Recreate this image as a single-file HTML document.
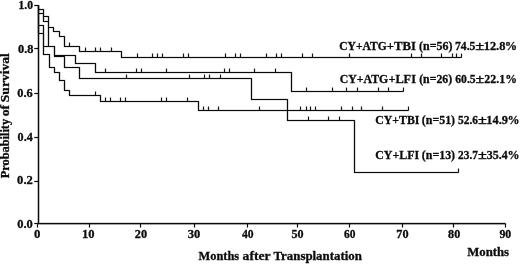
<!DOCTYPE html>
<html><head><meta charset="utf-8"><title>Probability of Survival</title>
<style>html,body{margin:0;padding:0;background:#fff}svg{display:block}</style></head>
<body>
<svg width="520" height="264" viewBox="0 0 520 264">
<rect width="520" height="264" fill="#fff"/>
<g fill="none" stroke="#000" stroke-linejoin="round" stroke-opacity="0.2">
<path d="M38.5,5.2 V223.5 H505.4" stroke-width="2.4"/>
<path d="M38.5,5.5 V9.5 H43.5 V16.5 H48.5 V27.5 H53.5 V31.5 H59.5 V36.5 H64.5 V46.5 H79.5 V51.5 H121.5 V57.5 H461.5 M38.5,5.5 V13.5 H43.5 V21.5 H48.5 V46.5 H54.5 V55.5 H75.5 V63.5 H95.5 V72.5 H291.5 V91.5 H403.5 M38.5,5.5 V25.5 H43.5 V54.5 H49.5 V67.5 H54.5 V72.5 H59.5 V80.5 H64.5 V90.5 H69.5 V95.5 H100.5 V101.5 H198.5 V110.5 H408.5 M38.5,5.5 V33.5 H43.5 V46.5 H54.5 V56.5 H64.5 V67.5 H79.5 V78.5 H251.5 V99.5 H287.5 V120.5 H354.5 V172.5 H458.5" stroke-width="2.2"/>
<path d="M69.5,46.5 v-3.9 M85.5,51.5 v-3.9 M95.5,51.5 v-3.9 M100.5,51.5 v-3.9 M111.5,51.5 v-3.9 M137.5,57.5 v-3.9 M152.5,57.5 v-3.9 M157.5,57.5 v-3.9 M162.5,57.5 v-3.9 M183.5,57.5 v-3.9 M188.5,57.5 v-3.9 M225.5,57.5 v-3.9 M235.5,57.5 v-3.9 M240.5,57.5 v-3.9 M266.5,57.5 v-3.9 M276.5,57.5 v-3.9 M281.5,57.5 v-3.9 M302.5,57.5 v-3.9 M312.5,57.5 v-3.9 M349.5,57.5 v-3.9 M411.5,57.5 v-3.9 M421.5,57.5 v-3.9 M441.5,57.5 v-3.9 M452.5,57.5 v-3.9 M456.5,57.5 v-3.9 M461.5,57.5 v-3.9 M105.5,72.5 v-3.9 M136.5,72.5 v-3.9 M141.5,72.5 v-3.9 M166.5,72.5 v-3.9 M224.5,72.5 v-3.9 M229.5,72.5 v-3.9 M254.5,72.5 v-3.9 M275.5,72.5 v-3.9 M306.5,91.5 v-3.9 M332.5,91.5 v-3.9 M346.5,91.5 v-3.9 M357.5,91.5 v-3.9 M378.5,91.5 v-3.9 M388.5,91.5 v-3.9 M403.5,91.5 v-3.9 M95.5,95.5 v-3.9 M105.5,101.5 v-3.9 M110.5,101.5 v-3.9 M120.5,101.5 v-3.9 M125.5,101.5 v-3.9 M161.5,101.5 v-3.9 M166.5,101.5 v-3.9 M187.5,101.5 v-3.9 M203.5,110.5 v-3.9 M208.5,110.5 v-3.9 M218.5,110.5 v-3.9 M259.5,110.5 v-3.9 M300.5,110.5 v-3.9 M306.5,110.5 v-3.9 M310.5,110.5 v-3.9 M315.5,110.5 v-3.9 M341.5,110.5 v-3.9 M352.5,110.5 v-3.9 M361.5,110.5 v-3.9 M382.5,110.5 v-3.9 M408.5,110.5 v-3.9 M126.5,78.5 v-3.9 M189.5,78.5 v-3.9 M204.5,78.5 v-3.9 M209.5,78.5 v-3.9 M220.5,78.5 v-3.9 M308.5,120.5 v-3.9 M328.5,120.5 v-3.9 M339.5,120.5 v-3.9 M458.5,172.5 v-3.9 M34.3,5.5 H38.5 M34.3,48.5 H38.5 M34.3,93.5 H38.5 M34.3,137.5 H38.5 M34.3,181.5 H38.5 M34.3,223.5 H38.5 M37.5,223.5 v4 M89.5,223.5 v4 M140.5,223.5 v4 M194.5,223.5 v4 M247.5,223.5 v4 M297.5,223.5 v4 M349.5,223.5 v4 M402.5,223.5 v4 M453.5,223.5 v4 M505.5,223.5 v4" stroke-width="1.9"/>
</g>
<g fill="none" stroke="#0a0a0a" stroke-linejoin="round">
<path d="M38.5,5.2 V223.5 H505.4" stroke-width="1.25"/>
<path d="M34.3,5.5 H38.5 M34.3,48.5 H38.5 M34.3,93.5 H38.5 M34.3,137.5 H38.5 M34.3,181.5 H38.5 M34.3,223.5 H38.5 M37.5,223.5 v4 M89.5,223.5 v4 M140.5,223.5 v4 M194.5,223.5 v4 M247.5,223.5 v4 M297.5,223.5 v4 M349.5,223.5 v4 M402.5,223.5 v4 M453.5,223.5 v4 M505.5,223.5 v4" stroke-width="1"/>
<path d="M38.5,5.5 V9.5 H43.5 V16.5 H48.5 V27.5 H53.5 V31.5 H59.5 V36.5 H64.5 V46.5 H79.5 V51.5 H121.5 V57.5 H461.5" stroke-width="1.05"/>
<path d="M69.5,46.5 v-3.9 M85.5,51.5 v-3.9 M95.5,51.5 v-3.9 M100.5,51.5 v-3.9 M111.5,51.5 v-3.9 M137.5,57.5 v-3.9 M152.5,57.5 v-3.9 M157.5,57.5 v-3.9 M162.5,57.5 v-3.9 M183.5,57.5 v-3.9 M188.5,57.5 v-3.9 M225.5,57.5 v-3.9 M235.5,57.5 v-3.9 M240.5,57.5 v-3.9 M266.5,57.5 v-3.9 M276.5,57.5 v-3.9 M281.5,57.5 v-3.9 M302.5,57.5 v-3.9 M312.5,57.5 v-3.9 M349.5,57.5 v-3.9 M411.5,57.5 v-3.9 M421.5,57.5 v-3.9 M441.5,57.5 v-3.9 M452.5,57.5 v-3.9 M456.5,57.5 v-3.9 M461.5,57.5 v-3.9" stroke-width="0.95"/>
<path d="M38.5,5.5 V13.5 H43.5 V21.5 H48.5 V46.5 H54.5 V55.5 H75.5 V63.5 H95.5 V72.5 H291.5 V91.5 H403.5" stroke-width="1.05"/>
<path d="M105.5,72.5 v-3.9 M136.5,72.5 v-3.9 M141.5,72.5 v-3.9 M166.5,72.5 v-3.9 M224.5,72.5 v-3.9 M229.5,72.5 v-3.9 M254.5,72.5 v-3.9 M275.5,72.5 v-3.9 M306.5,91.5 v-3.9 M332.5,91.5 v-3.9 M346.5,91.5 v-3.9 M357.5,91.5 v-3.9 M378.5,91.5 v-3.9 M388.5,91.5 v-3.9 M403.5,91.5 v-3.9" stroke-width="0.95"/>
<path d="M38.5,5.5 V25.5 H43.5 V54.5 H49.5 V67.5 H54.5 V72.5 H59.5 V80.5 H64.5 V90.5 H69.5 V95.5 H100.5 V101.5 H198.5 V110.5 H408.5" stroke-width="1.05"/>
<path d="M95.5,95.5 v-3.9 M105.5,101.5 v-3.9 M110.5,101.5 v-3.9 M120.5,101.5 v-3.9 M125.5,101.5 v-3.9 M161.5,101.5 v-3.9 M166.5,101.5 v-3.9 M187.5,101.5 v-3.9 M203.5,110.5 v-3.9 M208.5,110.5 v-3.9 M218.5,110.5 v-3.9 M259.5,110.5 v-3.9 M300.5,110.5 v-3.9 M306.5,110.5 v-3.9 M310.5,110.5 v-3.9 M315.5,110.5 v-3.9 M341.5,110.5 v-3.9 M352.5,110.5 v-3.9 M361.5,110.5 v-3.9 M382.5,110.5 v-3.9 M408.5,110.5 v-3.9" stroke-width="0.95"/>
<path d="M38.5,5.5 V33.5 H43.5 V46.5 H54.5 V56.5 H64.5 V67.5 H79.5 V78.5 H251.5 V99.5 H287.5 V120.5 H354.5 V172.5 H458.5" stroke-width="1.05"/>
<path d="M126.5,78.5 v-3.9 M189.5,78.5 v-3.9 M204.5,78.5 v-3.9 M209.5,78.5 v-3.9 M220.5,78.5 v-3.9 M308.5,120.5 v-3.9 M328.5,120.5 v-3.9 M339.5,120.5 v-3.9 M458.5,172.5 v-3.9" stroke-width="0.95"/>
</g>
<g font-family="'Liberation Serif', 'Times New Roman', serif" font-weight="bold" fill="#0c0c0c" stroke="#0c0c0c" stroke-width="0.3">
<text y="50.2" font-size="12.3"><tspan x="339.22" textLength="47.49" lengthAdjust="spacingAndGlyphs">CY+ATG</tspan><tspan x="386.86" textLength="29.15" lengthAdjust="spacingAndGlyphs">+TBI</tspan> <tspan x="419.12" textLength="33.28" lengthAdjust="spacingAndGlyphs">(n=56)</tspan> <tspan x="455.00" textLength="20.47" lengthAdjust="spacingAndGlyphs">74.5</tspan><tspan x="475.34" textLength="8.99" lengthAdjust="spacingAndGlyphs">±</tspan><tspan x="483.71" textLength="21.66" lengthAdjust="spacingAndGlyphs">12.8</tspan><tspan x="504.77" textLength="12.35" lengthAdjust="spacingAndGlyphs">%</tspan></text>
<text y="83.4" font-size="12.3"><tspan x="339.81" textLength="48.51" lengthAdjust="spacingAndGlyphs">CY+ATG</tspan><tspan x="388.38" textLength="27.57" lengthAdjust="spacingAndGlyphs">+LFI</tspan> <tspan x="419.13" textLength="33.07" lengthAdjust="spacingAndGlyphs">(n=26)</tspan> <tspan x="455.25" textLength="20.42" lengthAdjust="spacingAndGlyphs">60.5</tspan><tspan x="475.57" textLength="8.64" lengthAdjust="spacingAndGlyphs">±</tspan><tspan x="484.32" textLength="20.87" lengthAdjust="spacingAndGlyphs">22.1</tspan><tspan x="505.13" textLength="11.73" lengthAdjust="spacingAndGlyphs">%</tspan></text>
<text y="124.2" font-size="12.3"><tspan x="375.21" textLength="44.23" lengthAdjust="spacingAndGlyphs">CY+TBI</tspan> <tspan x="421.82" textLength="33.28" lengthAdjust="spacingAndGlyphs">(n=51)</tspan> <tspan x="458.04" textLength="20.00" lengthAdjust="spacingAndGlyphs">52.6</tspan><tspan x="478.05" textLength="8.88" lengthAdjust="spacingAndGlyphs">±</tspan><tspan x="486.31" textLength="21.69" lengthAdjust="spacingAndGlyphs">14.9</tspan><tspan x="507.60" textLength="11.98" lengthAdjust="spacingAndGlyphs">%</tspan></text>
<text y="159.3" font-size="12.3"><tspan x="375.20" textLength="43.87" lengthAdjust="spacingAndGlyphs">CY+LFI</tspan> <tspan x="421.82" textLength="33.28" lengthAdjust="spacingAndGlyphs">(n=13)</tspan> <tspan x="458.05" textLength="19.88" lengthAdjust="spacingAndGlyphs">23.7</tspan><tspan x="478.05" textLength="8.88" lengthAdjust="spacingAndGlyphs">±</tspan><tspan x="486.82" textLength="20.92" lengthAdjust="spacingAndGlyphs">35.4</tspan><tspan x="507.60" textLength="11.98" lengthAdjust="spacingAndGlyphs">%</tspan></text>
<text y="9.0" font-size="12"><tspan x="18.47" textLength="14.49" lengthAdjust="spacingAndGlyphs">1.0</tspan></text>
<text y="52.5" font-size="12"><tspan x="18.01" textLength="15.36" lengthAdjust="spacingAndGlyphs">0.8</tspan></text>
<text y="96.5" font-size="12"><tspan x="17.21" textLength="15.47" lengthAdjust="spacingAndGlyphs">0.6</tspan></text>
<text y="140.5" font-size="12"><tspan x="17.62" textLength="15.13" lengthAdjust="spacingAndGlyphs">0.4</tspan></text>
<text y="184.25" font-size="12"><tspan x="17.10" textLength="15.71" lengthAdjust="spacingAndGlyphs">0.2</tspan></text>
<text y="227.75" font-size="12"><tspan x="17.25" textLength="15.54" lengthAdjust="spacingAndGlyphs">0.0</tspan></text>
<text y="238.0" font-size="12"><tspan x="34.09" textLength="6.43" lengthAdjust="spacingAndGlyphs">0</tspan></text>
<text y="238.0" font-size="12"><tspan x="82.10" textLength="12.50" lengthAdjust="spacingAndGlyphs">10</tspan></text>
<text y="238.0" font-size="12"><tspan x="134.81" textLength="12.28" lengthAdjust="spacingAndGlyphs">20</tspan></text>
<text y="238.0" font-size="12"><tspan x="187.80" textLength="12.50" lengthAdjust="spacingAndGlyphs">30</tspan></text>
<text y="238.0" font-size="12"><tspan x="241.98" textLength="11.58" lengthAdjust="spacingAndGlyphs">40</tspan></text>
<text y="238.0" font-size="12"><tspan x="291.42" textLength="12.07" lengthAdjust="spacingAndGlyphs">50</tspan></text>
<text y="238.0" font-size="12"><tspan x="344.06" textLength="11.40" lengthAdjust="spacingAndGlyphs">60</tspan></text>
<text y="238.0" font-size="12"><tspan x="396.27" textLength="12.22" lengthAdjust="spacingAndGlyphs">70</tspan></text>
<text y="238.0" font-size="12"><tspan x="448.14" textLength="12.15" lengthAdjust="spacingAndGlyphs">80</tspan></text>
<text y="238.0" font-size="12"><tspan x="499.45" textLength="11.83" lengthAdjust="spacingAndGlyphs">90</tspan></text>
<text y="259.6" font-size="12.7"><tspan x="198.50" textLength="40.60" lengthAdjust="spacingAndGlyphs">Months</tspan> <tspan x="242.59" textLength="27.73" lengthAdjust="spacingAndGlyphs">after</tspan> <tspan x="273.49" textLength="88.36" lengthAdjust="spacingAndGlyphs">Transplantation</tspan></text>
<text y="256.25" font-size="12.6"><tspan x="467.24" textLength="41.87" lengthAdjust="spacingAndGlyphs">Months</tspan></text>
<text transform="translate(9.4,0) rotate(-90)" y="0" font-size="12.3"><tspan x="-178.25" textLength="59.31" lengthAdjust="spacingAndGlyphs">Probability</tspan> <tspan x="-116.34" textLength="11.25" lengthAdjust="spacingAndGlyphs">of</tspan> <tspan x="-102.18" textLength="48.94" lengthAdjust="spacingAndGlyphs">Survival</tspan></text>
</g></svg>
</body></html>
